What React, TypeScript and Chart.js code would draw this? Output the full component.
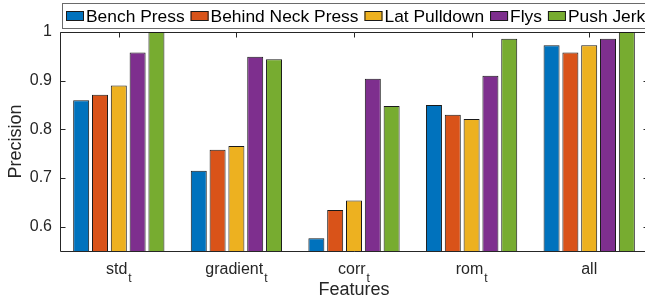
import React, { useEffect, useRef } from 'react';
import { Chart, registerables } from 'chart.js';

Chart.register(...registerables);

const categories = ['std_t', 'gradient_t', 'corr_t', 'rom_t', 'all'];
const seriesNames = ['Bench Press', 'Behind Neck Press', 'Lat Pulldown', 'Flys', 'Push Jerk'];
const benchPress = [0.86, 0.715, 0.576, 0.85, 0.973];
const behindNeckPress = [0.871, 0.758, 0.634, 0.83, 0.958];
const latPulldown = [0.89, 0.766, 0.654, 0.821, 0.973];
const flys = [0.958, 0.949, 0.904, 0.91, 0.986];
const pushJerk = [1.0, 0.944, 0.848, 0.986, 1.0];
const yTicks = [0.6, 0.7, 0.8, 0.9, 1];
const colors = ['#0072BD', '#D95319', '#EDB120', '#7E2F8E', '#77AC30'];

const FONT = '"Liberation Sans", Arial, Helvetica, sans-serif';
const AXIS_COLOR = '#262626';

const decorPlugin = {
  id: 'matlabDecor',
  beforeDatasetsDraw(chart: any) {
    const { ctx, chartArea: a, scales } = chart;
    const x = scales.x;
    const y = scales.y;
    ctx.save();
    ctx.strokeStyle = AXIS_COLOR;
    ctx.lineWidth = 1;
    ctx.beginPath();
    const L = Math.round(a.left) + 0.5;
    const R = Math.round(a.right) + 0.5;
    const T = Math.round(a.top) + 0.5;
    const B = Math.round(a.bottom) + 0.5;
    ctx.moveTo(L, T); ctx.lineTo(R, T); ctx.lineTo(R, B); ctx.lineTo(L, B); ctx.closePath();
    yTicks.forEach((v) => {
      const py = Math.round(y.getPixelForValue(v)) + 0.5;
      ctx.moveTo(L, py); ctx.lineTo(L + 5, py);
      ctx.moveTo(R, py); ctx.lineTo(R - 5, py);
    });
    categories.forEach((_, i) => {
      const px = Math.round(x.getPixelForValue(i)) + 0.5;
      ctx.moveTo(px, T); ctx.lineTo(px, T + 5);
      ctx.moveTo(px, B); ctx.lineTo(px, B - 5);
    });
    ctx.stroke();
    ctx.restore();
  },
  afterDraw(chart: any) {
    const { ctx, chartArea: a, scales } = chart;
    const x = scales.x;
    ctx.save();
    // category labels with subscripts
    categories.forEach((lab, i) => {
      const parts = lab.split('_');
      const main = parts[0];
      const sub = parts[1] || '';
      ctx.font = `16px ${FONT}`;
      const wMain = ctx.measureText(main).width;
      ctx.font = `12px ${FONT}`;
      const wSub = sub ? ctx.measureText(sub).width + 1 : 0;
      const cx = x.getPixelForValue(i);
      const start = cx - (wMain + wSub) / 2;
      ctx.fillStyle = AXIS_COLOR;
      ctx.textAlign = 'left';
      ctx.textBaseline = 'alphabetic';
      ctx.font = `16px ${FONT}`;
      ctx.fillText(main, start, a.bottom + 23);
      if (sub) {
        ctx.font = `12px ${FONT}`;
        ctx.fillText(sub, start + wMain + 1, a.bottom + 31);
      }
    });
    // legend
    const top = 3.5;
    const h = 25;
    const left = 62.5;
    ctx.fillStyle = '#ffffff';
    ctx.fillRect(left, top, chart.width - left + 5, h);
    ctx.strokeStyle = '#6a6a6a';
    ctx.lineWidth = 1;
    ctx.strokeRect(left, top, chart.width - left + 5, h);
    ctx.font = `17.4px ${FONT}`;
    ctx.textBaseline = 'middle';
    ctx.textAlign = 'left';
    let px = 66;
    const cy = top + h / 2;
    seriesNames.forEach((name, i) => {
      ctx.fillStyle = colors[i];
      ctx.fillRect(px, cy - 5, 18, 10);
      ctx.strokeStyle = '#1a1a1a';
      ctx.strokeRect(px + 0.5, Math.round(cy - 5) + 0.5, 17, 9);
      px += 20;
      ctx.fillStyle = '#000000';
      ctx.fillText(name, px, cy + 1);
      px += ctx.measureText(name).width + 6;
    });
    ctx.restore();
  },
};

export default function App() {
  const ref = useRef<HTMLCanvasElement | null>(null);
  useEffect(() => {
    if (!ref.current) return;
    const series = [benchPress, behindNeckPress, latPulldown, flys, pushJerk];
    const chart = new Chart(ref.current, {
      type: 'bar',
      data: {
        labels: categories,
        datasets: series.map((d, i) => ({
          label: seriesNames[i],
          data: d,
          backgroundColor: colors[i],
          borderColor: '#1a1a1a',
          borderWidth: 1,
          borderSkipped: false,
          categoryPercentage: 0.8,
          barPercentage: 0.85,
        })),
      },
      options: {
        animation: false,
        responsive: false,
        maintainAspectRatio: false,
        layout: { padding: { top: 32, right: 12, left: 0, bottom: 0 } },
        plugins: { legend: { display: false }, tooltip: { enabled: false } },
        scales: {
          x: {
            grid: { display: false, drawTicks: false },
            border: { display: false },
            ticks: { display: false },
            title: {
              display: true,
              text: 'Features',
              color: AXIS_COLOR,
              font: { family: FONT, size: 18 },
              padding: { top: 0, bottom: 3 },
            },
            afterFit: (s: any) => { s.height = 53; },
          },
          y: {
            min: 0.55,
            max: 1,
            grid: { display: false, drawTicks: false },
            border: { display: false },
            afterBuildTicks: (s: any) => { s.ticks = yTicks.map((v) => ({ value: v })); },
            ticks: {
              color: AXIS_COLOR,
              font: { family: FONT, size: 16 },
              padding: 8,
              callback: (v: any) => (Number(v) === 1 ? '1' : Number(v).toFixed(1)),
            },
            title: {
              display: true,
              text: 'Precision',
              color: AXIS_COLOR,
              font: { family: FONT, size: 18 },
              padding: { top: 5, bottom: 0 },
            },
            afterFit: (s: any) => { s.width = 60; },
          },
        },
      },
      plugins: [decorPlugin],
    });
    return () => chart.destroy();
  }, []);
  return (
    <div style={{ position: 'fixed', left: 0, top: 0, width: 645, height: 304, overflow: 'hidden', background: '#fff' }}>
      <canvas ref={ref} width={660} height={304} style={{ display: 'block' }} />
    </div>
  );
}
